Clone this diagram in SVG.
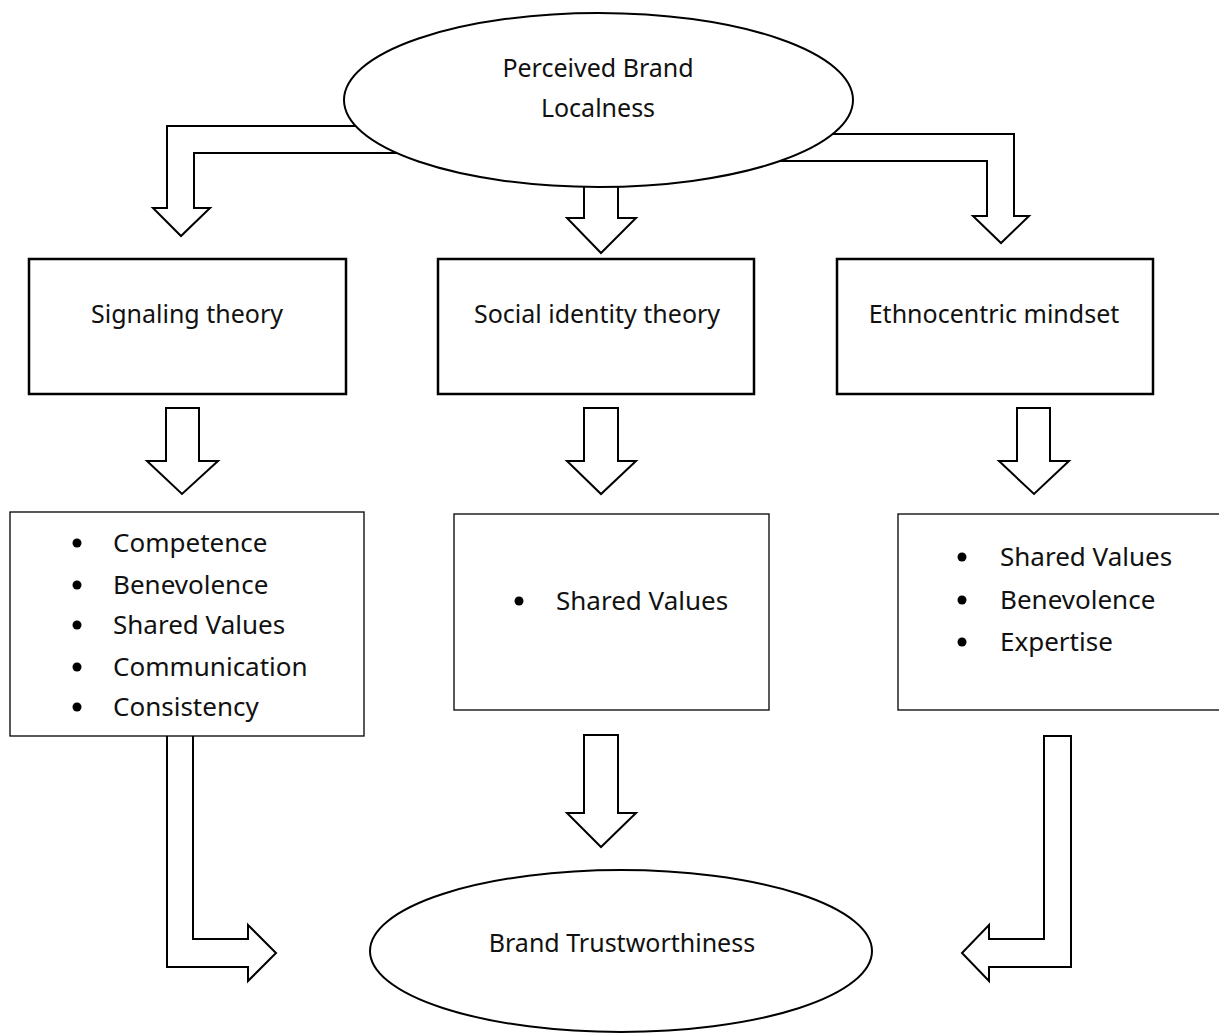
<svg xmlns="http://www.w3.org/2000/svg" width="1219" height="1036" viewBox="0 0 1219 1036">
<style>
  .arrow { fill: #ffffff; stroke: #000000; stroke-width: 2; stroke-linejoin: miter; }
  .oval { fill: #ffffff; stroke: #000000; stroke-width: 2; }
  .box { fill: #ffffff; stroke: #000000; stroke-width: 2.5; }
  .list { fill: #ffffff; stroke: #000000; stroke-width: 1.3; }
  .t { font-family: "Noto Sans", "Open Sans", "Liberation Sans", sans-serif; font-size: 25px; fill: #111111; }
  .li { font-family: "Noto Sans", "Open Sans", "Liberation Sans", sans-serif; font-size: 26px; fill: #111111; }
  .mid { text-anchor: middle; }
  .dot { fill: #000000; }
</style>
<rect x="0" y="0" width="1219" height="1036" fill="#ffffff"/>
<g id="connectors">
  <path class="arrow" d="M420,126 L167,126 L167,208 L153,208 L181,236 L210,208 L194,208 L194,153 L420,153 Z"/>
  <path class="arrow" d="M584,170 L584,218 L567,218 L601,253 L636,218 L618,218 L618,170 Z"/>
  <path class="arrow" d="M780,134 L1014,134 L1014,216 L1029,216 L1001,243 L973,216 L987,216 L987,161 L760,161 Z"/>
  <path class="arrow" d="M166,408 L199,408 L199,461 L218,461 L182,494 L147,461 L166,461 Z"/>
  <path class="arrow" d="M584,408 L618,408 L618,461 L636,461 L601,494 L567,461 L584,461 Z"/>
  <path class="arrow" d="M1017,408 L1050,408 L1050,461 L1069,461 L1034,494 L999,461 L1017,461 Z"/>
  <path class="arrow" d="M167,735 L193,735 L193,939 L248,939 L248,925 L276,953 L248,981 L248,967 L167,967 Z"/>
  <path class="arrow" d="M584,735 L618,735 L618,813 L636,813 L601,847 L567,813 L584,813 Z"/>
  <path class="arrow" d="M1044,736 L1071,736 L1071,967 L989,967 L989,981 L962,953 L989,925 L989,939 L1044,939 Z"/>
</g>
<g id="node-localness">
  <ellipse class="oval" cx="598.5" cy="100" rx="254.5" ry="87"/>
  <text class="t mid" x="598" y="77">Perceived Brand</text>
  <text class="t mid" x="598" y="117">Localness</text>
</g>
<g id="node-signaling">
  <rect class="box" x="29" y="259" width="317" height="135"/>
  <text class="t mid" x="187" y="323">Signaling theory</text>
</g>
<g id="node-social">
  <rect class="box" x="438" y="259" width="316" height="135"/>
  <text class="t mid" x="597" y="323">Social identity theory</text>
</g>
<g id="node-ethno">
  <rect class="box" x="837" y="259" width="316" height="135"/>
  <text class="t mid" x="994" y="323">Ethnocentric mindset</text>
</g>
<g id="node-list-signaling">
  <rect class="list" x="10" y="512" width="354" height="224"/>
  <circle class="dot" cx="77" cy="543" r="4.5"/>
  <circle class="dot" cx="77" cy="585" r="4.5"/>
  <circle class="dot" cx="77" cy="625" r="4.5"/>
  <circle class="dot" cx="77" cy="667" r="4.5"/>
  <circle class="dot" cx="77" cy="707" r="4.5"/>
  <text class="li" x="113" y="552">Competence</text>
  <text class="li" x="113" y="594">Benevolence</text>
  <text class="li" x="113" y="634">Shared Values</text>
  <text class="li" x="113" y="676">Communication</text>
  <text class="li" x="113" y="716">Consistency</text>
</g>
<g id="node-list-social">
  <rect class="list" x="454" y="514" width="315" height="196"/>
  <circle class="dot" cx="519" cy="601" r="4.5"/>
  <text class="li" x="556" y="610">Shared Values</text>
</g>
<g id="node-list-ethno">
  <rect class="list" x="898" y="514" width="330" height="196"/>
  <circle class="dot" cx="962" cy="557" r="4.5"/>
  <circle class="dot" cx="962" cy="600" r="4.5"/>
  <circle class="dot" cx="962" cy="642" r="4.5"/>
  <text class="li" x="1000" y="566">Shared Values</text>
  <text class="li" x="1000" y="609">Benevolence</text>
  <text class="li" x="1000" y="651">Expertise</text>
</g>
<g id="node-trust">
  <ellipse class="oval" cx="621" cy="951" rx="251" ry="81"/>
  <text class="t mid" x="622" y="952">Brand Trustworthiness</text>
</g>
</svg>
